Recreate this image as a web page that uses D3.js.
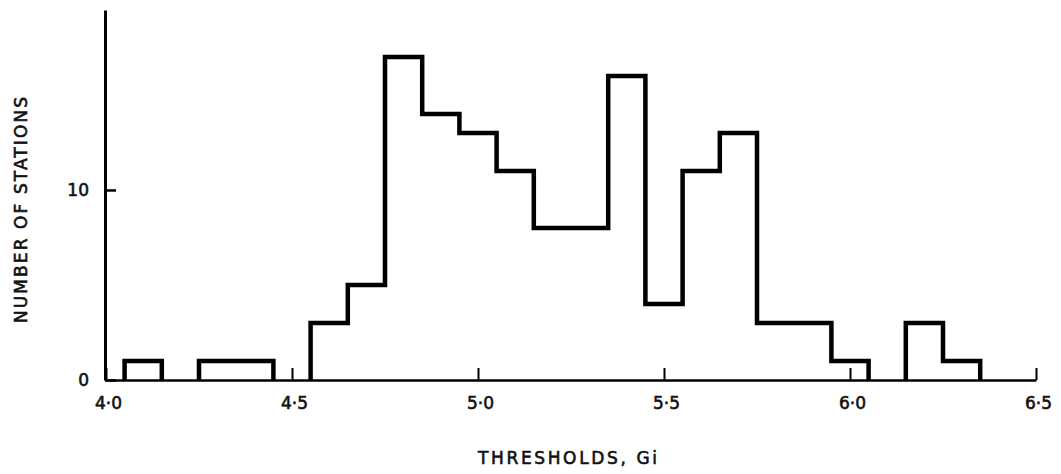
<!DOCTYPE html>
<html>
<head>
<meta charset="utf-8">
<script src="https://cdn.jsdelivr.net/npm/d3@7/dist/d3.min.js"></script>
<style>
  html, body { margin: 0; padding: 0; background: #fff; }
  svg { display: block; }
  text { font-family: "DejaVu Sans", sans-serif; fill: #111; stroke: #111; stroke-width: 0.6px; }
</style>
</head>
<body>
<svg id="chart" width="1061" height="474"></svg>
<script>
// Histogram of station thresholds (Gi), bins of width 0.1
const binStarts = [4.05, 4.15, 4.25, 4.35, 4.45, 4.55, 4.65, 4.75, 4.85, 4.95, 5.05, 5.15,
                   5.25, 5.35, 5.45, 5.55, 5.65, 5.75, 5.85, 5.95, 6.05, 6.15, 6.25];
const counts    = [1, 0, 1, 1, 0, 3, 5, 17, 14, 13, 11, 8,
                   8, 16, 4, 11, 13, 3, 3, 1, 0, 3, 1];
const binWidth = 0.1;
const xTicks = [4.0, 4.5, 5.0, 5.5, 6.0, 6.5];
const yTicks = [0, 10];
const xTitle = "THRESHOLDS, Gi";
const yTitle = "NUMBER OF STATIONS";

const svg = d3.select("#chart");
const x = d3.scaleLinear().domain([4.0, 6.5]).range([106, 1036]);
const y = d3.scaleLinear().domain([0, 19.47]).range([380, 10]);

// group contiguous non-empty bins into outlined blocks
const groups = [];
let cur = null;
binStarts.forEach((s, i) => {
  if (counts[i] > 0) {
    if (!cur) { cur = []; groups.push(cur); }
    cur.push({ start: s, end: s + binWidth, count: counts[i] });
  } else {
    cur = null;
  }
});

const line = d3.line().x(d => x(d[0])).y(d => y(d[1]));
groups.forEach(g => {
  const pts = [[g[0].start, 0]];
  g.forEach(b => { pts.push([b.start, b.count]); pts.push([b.end, b.count]); });
  pts.push([g[g.length - 1].end, 0]);
  svg.append("path")
    .attr("d", line(pts))
    .attr("fill", "none")
    .attr("stroke", "#000")
    .attr("stroke-width", 4.5)
    .attr("stroke-linejoin", "miter");
});

// x axis with inward ticks
const fmt = d3.format(".1f");
const xAxis = d3.axisBottom(x)
  .tickValues(xTicks)
  .tickSizeInner(-12)
  .tickSizeOuter(0)
  .tickPadding(17)
  .tickFormat(d => fmt(d).replace(".", "\u00B7"));
const gx = svg.append("g").attr("transform", "translate(0,380)").call(xAxis);
gx.select(".domain").attr("stroke", "#000").attr("stroke-width", 2.5);
gx.selectAll(".tick line").attr("stroke", "#000").attr("stroke-width", 2);
gx.selectAll(".tick text")
  .attr("font-family", "DejaVu Sans, sans-serif")
  .attr("font-size", 17)
  .attr("dx", 2)
  .attr("fill", "#111");

// y axis with inward ticks
const yAxis = d3.axisLeft(y)
  .tickValues(yTicks)
  .tickSizeInner(-11)
  .tickSizeOuter(0)
  .tickPadding(16)
  .tickFormat(d3.format("d"));
const gy = svg.append("g").attr("transform", "translate(105,0)").call(yAxis);
gy.select(".domain").attr("stroke", "#000").attr("stroke-width", 3);
gy.selectAll(".tick line").attr("stroke", "#000").attr("stroke-width", 2.5);
gy.selectAll(".tick text")
  .attr("font-family", "DejaVu Sans, sans-serif")
  .attr("font-size", 17)
  .attr("fill", "#111");

// axis titles
svg.append("text")
  .attr("x", 478).attr("y", 464)
  .attr("font-size", 17)
  .attr("textLength", 179)
  .attr("lengthAdjust", "spacing")
  .text(xTitle);

svg.append("text")
  .attr("transform", "translate(27,323) rotate(-90)")
  .attr("font-size", 17)
  .attr("textLength", 226)
  .attr("lengthAdjust", "spacing")
  .text(yTitle);
</script>
</body>
</html>
